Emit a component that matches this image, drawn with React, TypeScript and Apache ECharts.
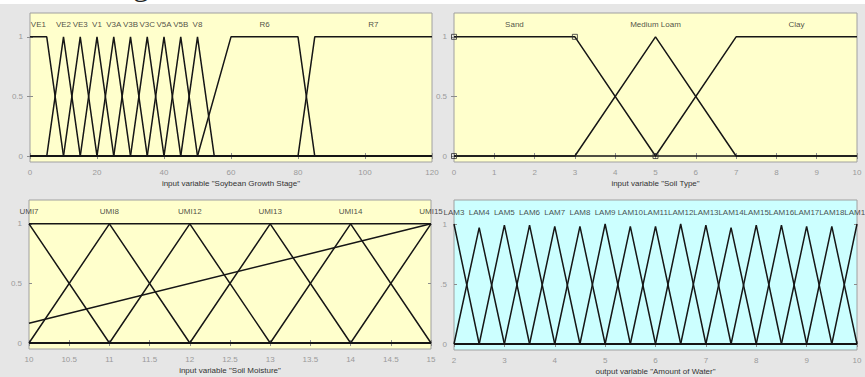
import React, { useEffect, useRef } from "react";
import * as echarts from "echarts";

// ---------- data ----------
const growthNames = ["VE1", "VE2", "VE3", "V1", "V3A", "V3B", "V3C", "V5A", "V5B", "V8", "R6", "R7"];
const growthParams = [
  [0, 0, 5, 10], [5, 10, 10, 15], [10, 15, 15, 20], [15, 20, 20, 25], [20, 25, 25, 30],
  [25, 30, 30, 35], [30, 35, 35, 40], [35, 40, 40, 45], [40, 45, 45, 50], [45, 50, 50, 55],
  [50, 60, 80, 85], [80, 85, 120, 120],
];

const soilNames = ["Sand", "Medium Loam", "Clay"];
const soilParams = [[0, 0, 3, 5], [3, 5, 5, 7], [5, 7, 10, 10]];
const soilMarkers = [[0, 0], [0, 1], [3, 1], [5, 0]];

const moistureNames = ["UMI7", "UMI8", "UMI12", "UMI13", "UMI14", "UMI15", "", ""];
const moistureParams = [
  [10, 10, 10, 11], [10, 11, 11, 12], [11, 12, 12, 13], [12, 13, 13, 14],
  [13, 14, 14, 15], [14, 15, 15, 16], [10, 10, 15, 15], [9, 15, 15, 21],
];

const waterNames = ["LAM3", "LAM4", "LAM5", "LAM6", "LAM7", "LAM8", "LAM9", "LAM10", "LAM11",
  "LAM12", "LAM13", "LAM14", "LAM15", "LAM16", "LAM17", "LAM18", "LAM19"];
const waterCenters = [2, 2.5, 3, 3.5, 4, 4.5, 5, 5.5, 6, 6.5, 7, 7.5, 8, 8.5, 9, 9.5, 10];
const waterHalfWidth = 0.5;
const waterPeaks = [1, 0.97, 0.99, 0.99, 0.98, 0.98, 1, 0.98, 0.98, 1, 0.99, 0.97, 0.99, 0.99, 0.98, 0.98, 1];
const waterParams = waterCenters.map((c) => [c - waterHalfWidth, c, c, c + waterHalfWidth]);

const yTicks = [0, 0.5, 1];

// ---------- helpers ----------
function mu(p: number[], x: number) {
  const [a, b, c, d] = p;
  if (x >= b && x <= c) return 1;
  if (x > a && x < b) return (x - a) / (b - a);
  if (x > c && x < d) return (d - x) / (d - c);
  return 0;
}
function mfLine(p: number[], lo: number, hi: number, h = 1) {
  const xs = Array.from(new Set([lo, ...p, hi]))
    .filter((x) => x >= lo && x <= hi)
    .sort((u, v) => u - v);
  return xs.map((x) => [x, mu(p, x) * h]);
}

const FONT = "Liberation Sans";
const GREY = "#e6e6e6";

const panels = [
  { grid: { left: 30, top: 13, width: 402, height: 149 }, min: 0, max: 120, interval: 20,
    name: 'input variable "Soybean Growth Stage"', bg: "#ffffcc", names: growthNames, params: growthParams, heights: null as number[] | null, half: "0.5" },
  { grid: { left: 454, top: 13, width: 403, height: 149 }, min: 0, max: 10, interval: 1,
    name: 'input variable "Soil Type"', bg: "#ffffcc", names: soilNames, params: soilParams, heights: null, half: "0.5" },
  { grid: { left: 29, top: 200, width: 402, height: 149 }, min: 10, max: 15, interval: 0.5,
    name: 'input variable "Soil Moisture"', bg: "#ffffcc", names: moistureNames, params: moistureParams, heights: null, half: "0.5" },
  { grid: { left: 454, top: 200, width: 403, height: 150 }, min: 2, max: 10, interval: 1,
    name: 'output variable "Amount of Water"', bg: "#ccffff", names: waterNames, params: waterParams, heights: waterPeaks, half: ".5" },
];

function buildOption() {
  const grid: any[] = [];
  const xAxis: any[] = [];
  const yAxis: any[] = [];
  const series: any[] = [];
  panels.forEach((p, i) => {
    grid.push({ ...p.grid, show: true, backgroundColor: p.bg, borderColor: "#a0a0a0", borderWidth: 1, containLabel: false });
    const tick = { show: true, inside: true, length: 3, lineStyle: { color: "#8c8c8c", width: 1 } };
    xAxis.push({
      type: "value", gridIndex: i, position: "bottom", min: p.min, max: p.max, interval: p.interval,
      axisLine: { show: false }, splitLine: { show: false }, axisTick: tick,
      axisLabel: { color: "#9a9a9a", fontSize: 8, fontFamily: FONT, margin: 6 },
      name: p.name, nameLocation: "middle", nameGap: 17,
      nameTextStyle: { color: "#333", fontSize: 8, fontFamily: FONT },
    });
    xAxis.push({
      type: "value", gridIndex: i, position: "top", min: p.min, max: p.max, interval: p.interval,
      axisLine: { show: false }, splitLine: { show: false }, axisTick: tick, axisLabel: { show: false },
    });
    const half = p.half;
    yAxis.push({
      type: "value", gridIndex: i, position: "left", min: -0.05, max: 1.2,
      axisLine: { show: false }, splitLine: { show: false },
      axisTick: { ...tick, customValues: yTicks },
      axisLabel: {
        color: "#9a9a9a", fontSize: 8, fontFamily: FONT, margin: 7, customValues: yTicks,
        formatter: (v: number) => (v === 0.5 ? half : String(v)),
      },
    });
    yAxis.push({
      type: "value", gridIndex: i, position: "right", min: -0.05, max: 1.2,
      axisLine: { show: false }, splitLine: { show: false },
      axisTick: { ...tick, customValues: yTicks }, axisLabel: { show: false },
    });
    p.params.forEach((par, k) => {
      series.push({
        type: "line", xAxisIndex: 2 * i, yAxisIndex: 2 * i, name: p.names[k] || "mf" + k,
        data: mfLine(par, p.min, p.max, p.heights ? p.heights[k] : 1),
        symbol: "none", lineStyle: { color: "#161616", width: 1.5 }, silent: true,
      });
    });
    const labels = p.params
      .map((par, k) => ({ name: p.names[k], value: [Math.min(Math.max((par[1] + par[2]) / 2, p.min), p.max), 1.1] }))
      .filter((d) => d.name);
    series.push({
      type: "scatter", xAxisIndex: 2 * i, yAxisIndex: 2 * i, data: labels, symbolSize: 0, clip: false, silent: true,
      label: { show: true, position: "inside", formatter: "{b}", color: "#222", fontSize: 8, fontFamily: FONT },
      z: 5,
    });
    if (i === 1) {
      series.push({
        type: "scatter", xAxisIndex: 2, yAxisIndex: 2, data: soilMarkers, symbol: "rect", symbolSize: 5, silent: true,
        itemStyle: { color: "rgba(0,0,0,0)", borderColor: "#333", borderWidth: 1 }, z: 4,
      });
    }
  });
  return {
    animation: false,
    backgroundColor: GREY,
    grid, xAxis, yAxis, series,
    graphic: [
      { type: "rect", shape: { x: 0, y: 0, width: 865, height: 4 }, style: { fill: "#ffffff" }, z: 1 },
      { type: "text", x: 133, y: -16, z: 2,
        style: { text: "g", font: '32px "Liberation Serif"', fill: "#222", verticalAlign: "middle", textVerticalAlign: "middle" } },
    ],
  };
}

export default function App() {
  const ref = useRef<HTMLDivElement>(null);
  useEffect(() => {
    if (!ref.current) return;
    const chart = echarts.init(ref.current, undefined, { renderer: "svg" });
    chart.setOption(buildOption() as any);
    return () => chart.dispose();
  }, []);
  return <div ref={ref} style={{ position: "fixed", left: 0, top: 0, width: 865, height: 377 }} />;
}
